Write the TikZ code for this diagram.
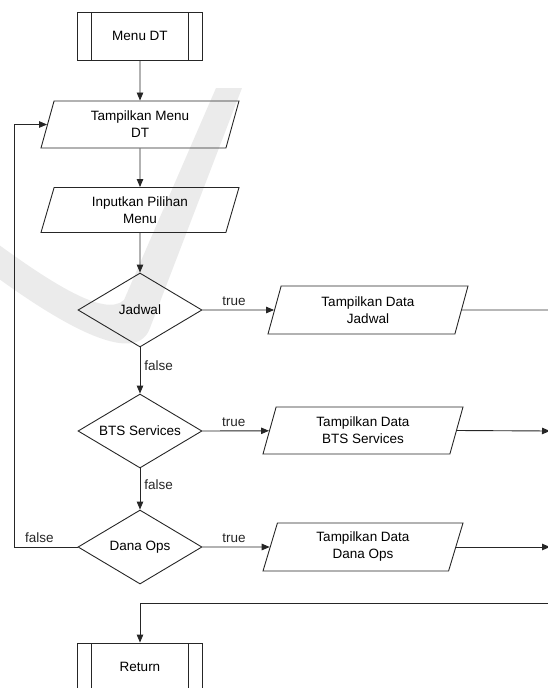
\documentclass[tikz,border=0pt]{standalone}
\usepackage{fontspec}
\setmainfont{Liberation Sans}
\usetikzlibrary{shapes.geometric,arrows.meta}

\tikzset{
  base/.style={draw=black!85, line width=0.9pt, fill=none,
    font=\fontsize{13.5}{17}\selectfont, align=center, inner sep=0pt},
  subproc/.style={base, rectangle, minimum width=125pt, minimum height=48pt,
    path picture={
      \draw[black!85, line width=0.9pt]
        ([xshift=14pt]path picture bounding box.north west) --
        ([xshift=14pt]path picture bounding box.south west)
        ([xshift=-14pt]path picture bounding box.north east) --
        ([xshift=-14pt]path picture bounding box.south east);}},
  io/.style={base, trapezium, trapezium left angle=64, trapezium right angle=116,
    trapezium stretches body, minimum width=198pt, minimum height=47pt},
  decision/.style={base, diamond, aspect=1.676, minimum width=124pt, minimum height=74pt},
  flow/.style={draw=black!85, line width=0.9pt, -{Triangle[length=8pt,width=6.5pt]}},
  plain/.style={draw=black!80, line width=0.9pt},
  lbl/.style={font=\fontsize{13.5}{16}\selectfont, inner sep=0pt, text=black!85},
  wm/.style={fill=black!8, draw=none},
}

\begin{document}
\begin{tikzpicture}[x=1pt, y=-1pt]
\useasboundingbox (0,0) rectangle (548,688);
\clip (0,0) rectangle (548,688);

% faint swoosh in the background
\fill[wm] (-5,242) .. controls (50,282) and (105,318) .. (124,300)
  -- (216,88) -- (242,88) -- (150,328)
  .. controls (138,362) and (80,338) .. (-5,276) -- cycle;

% main column
\node[subproc] (menu) at (140,36) {Menu DT};
\node[io] (tmenu) at (140,124.5) {Tampilkan Menu\\DT};
\node[io, minimum height=45pt] (input) at (140,210) {Inputkan Pilihan\\Menu};
\node[decision] (jad) at (140,310) {Jadwal};
\node[decision] (bts) at (140,431) {BTS Services};
\node[decision] (dana) at (140,547) {Dana Ops};
\node[subproc] (ret) at (140,667) {Return};

% output column
\node[io, minimum width=200pt, minimum height=48pt] (djad) at (368,310) {Tampilkan Data\\Jadwal};
\node[io, minimum width=200pt] (dbts) at (363,430.5) {Tampilkan Data\\BTS Services};
\node[io, minimum width=200pt, minimum height=48pt] (ddana) at (363,547) {Tampilkan Data\\Dana Ops};

% free ends and corners
\coordinate (jout) at (556,310);
\coordinate (bout) at (550,431);
\coordinate (dout) at (550,547);
\coordinate (rin) at (556,603);
\coordinate (loop) at (14,547);

% connectors
\draw[flow] (menu.south) -- (tmenu.north);
\draw[flow] (tmenu.south) -- (input.north);
\draw[flow] (input.south) -- (jad.north);
\draw[flow] (jad.south) -- node[lbl, pos=0.4, anchor=west, xshift=4pt] {false} (bts.north);
\draw[flow] (bts.south) -- node[lbl, pos=0.4, anchor=west, xshift=4pt] {false} (dana.north);

\draw[flow] (jad.east) -- node[lbl, pos=0.44, anchor=south, yshift=4pt] {true} (djad);
\draw[flow] (bts.east) -- node[lbl, pos=0.47, anchor=south, yshift=4pt] {true} (dbts);
\draw[flow] (dana.east) -- node[lbl, pos=0.47, anchor=south, yshift=4pt] {true} (ddana);

\draw[plain] (djad.east) -- (jout);
\draw[flow] (dbts.east) -- (bout);
\draw[flow] (ddana.east) -- (dout);

\draw[flow] (dana.west) -- node[lbl, pos=0.6, anchor=south, yshift=4pt] {false} (loop) |- (tmenu.west);
\draw[flow] (rin) -| (ret.north);
\end{tikzpicture}
\end{document}
